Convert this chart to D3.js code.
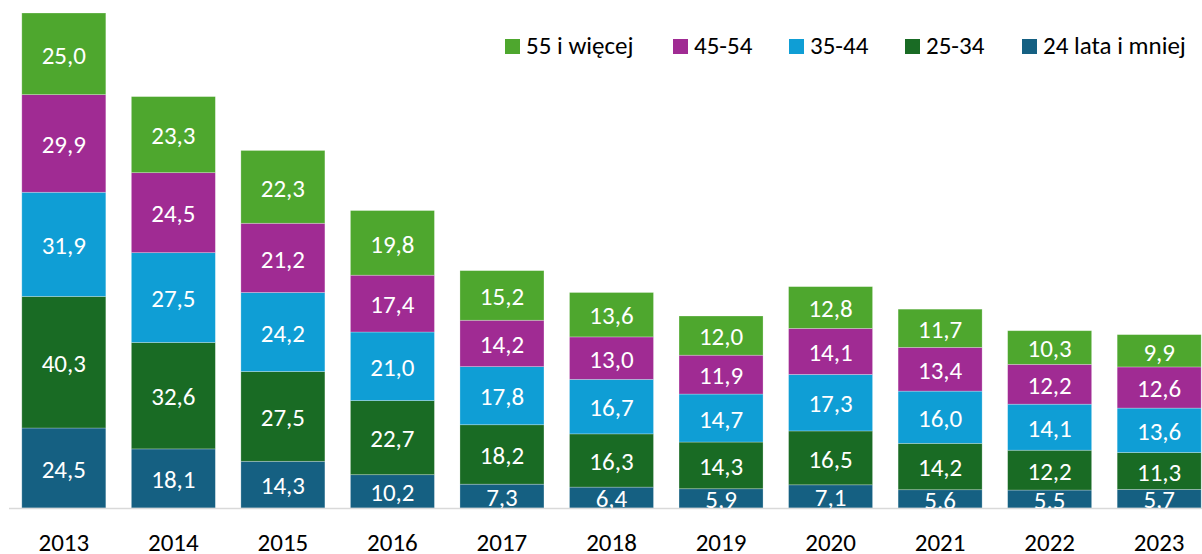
<!DOCTYPE html>
<html lang="pl">
<head>
  <meta charset="UTF-8">
  <title>Struktura wiekowa</title>
  <script src="https://cdn.jsdelivr.net/npm/d3@7"></script>
  <style>
    body { margin: 0; background: #fff; }
    text { font-family: Carlito, Calibri, Lato, sans-serif; }
  </style>
</head>
<body>
<svg width="1202" height="554"></svg>
<script>
// data
var years = ["2013","2014","2015","2016","2017","2018","2019","2020","2021","2022","2023"];
var under25 = [24.5, 18.1, 14.3, 10.2, 7.3, 6.4, 5.9, 7.1, 5.6, 5.5, 5.7];
var age25_34 = [40.3, 32.6, 27.5, 22.7, 18.2, 16.3, 14.3, 16.5, 14.2, 12.2, 11.3];
var age35_44 = [31.9, 27.5, 24.2, 21.0, 17.8, 16.7, 14.7, 17.3, 16.0, 14.1, 13.6];
var age45_54 = [29.9, 24.5, 21.2, 17.4, 14.2, 13.0, 11.9, 14.1, 13.4, 12.2, 12.6];
var age55plus = [25.0, 23.3, 22.3, 19.8, 15.2, 13.6, 12.0, 12.8, 11.7, 10.3, 9.9];

var seriesNames = ["24 lata i mniej", "25-34", "35-44", "45-54", "55 i więcej"];
var seriesValues = [under25, age25_34, age35_44, age45_54, age55plus];
var colors = ["#156082", "#196b24", "#0f9ed5", "#a02b93", "#4ea72e"];

var svg = d3.select("svg");
var baseY = 508;

var rows = years.map(function(y, i) {
  var r = { year: y };
  seriesNames.forEach(function(s, k) { r[s] = seriesValues[k][i]; });
  return r;
});

var stack = d3.stack().keys(seriesNames);
var layers = stack(rows);

var x = d3.scaleBand().domain(years).range([9, 1214]).paddingInner(0.233).paddingOuter(0.117);
var y = d3.scaleLinear().domain([0, 151.6]).range([baseY, 13]);

var fmt = function(v) { return v.toFixed(1).replace(".", ","); };

var g = svg.append("g");
layers.forEach(function(layer, k) {
  var lg = g.append("g");
  lg.selectAll("rect")
    .data(layer)
    .enter().append("rect")
      .attr("x", function(d) { return x(d.data.year); })
      .attr("y", function(d) { return y(d[1]); })
      .attr("width", x.bandwidth())
      .attr("height", function(d) { return y(d[0]) - y(d[1]); })
      .attr("fill", colors[k])
      .attr("stroke", "#ffffff")
      .attr("stroke-opacity", 0.35)
      .attr("stroke-width", 0.75);
});

// axis line
svg.append("line")
  .attr("x1", 9).attr("x2", 1202)
  .attr("y1", baseY + 0.5).attr("y2", baseY + 0.5)
  .attr("stroke", "#d9d9d9").attr("stroke-width", 1.5);

// labels, clipped under the axis line
svg.append("clipPath").attr("id", "clip")
  .append("rect").attr("x", 0).attr("y", 0).attr("width", 1202).attr("height", baseY);

var lblG = svg.append("g").attr("clip-path", "url(#clip)");
layers.forEach(function(layer, k) {
  lblG.selectAll(null)
    .data(layer)
    .enter().append("text")
      .attr("x", function(d) { return x(d.data.year) + x.bandwidth() / 2; })
      .attr("y", function(d) { return (y(d[0]) + y(d[1])) / 2; })
      .attr("dy", "0.39em")
      .attr("text-anchor", "middle")
      .attr("fill", "#fff")
      .style("font-size", "25px")
      .text(function(d) { return fmt(d[1] - d[0]); });
});

// year labels
svg.append("g").selectAll("text")
  .data(years)
  .enter().append("text")
    .attr("x", function(d) { return x(d) + x.bandwidth() / 2; })
    .attr("y", 551)
    .attr("text-anchor", "middle")
    .attr("fill", "#000")
    .style("font-size", "25px")
    .text(function(d) { return d; });

// legend (top right, reverse order)
var legendItems = seriesNames.slice().reverse();
var legendColors = colors.slice().reverse();
var legendX = [505, 673, 789, 905, 1022];
var leg = svg.append("g");
legendItems.forEach(function(name, i) {
  leg.append("rect")
    .attr("x", legendX[i]).attr("y", 39)
    .attr("width", 15).attr("height", 15)
    .attr("fill", legendColors[i]);
  leg.append("text")
    .attr("x", legendX[i] + 21).attr("y", 54)
    .attr("fill", "#000")
    .style("font-size", "25px")
    .text(name);
});
</script>
</body>
</html>
